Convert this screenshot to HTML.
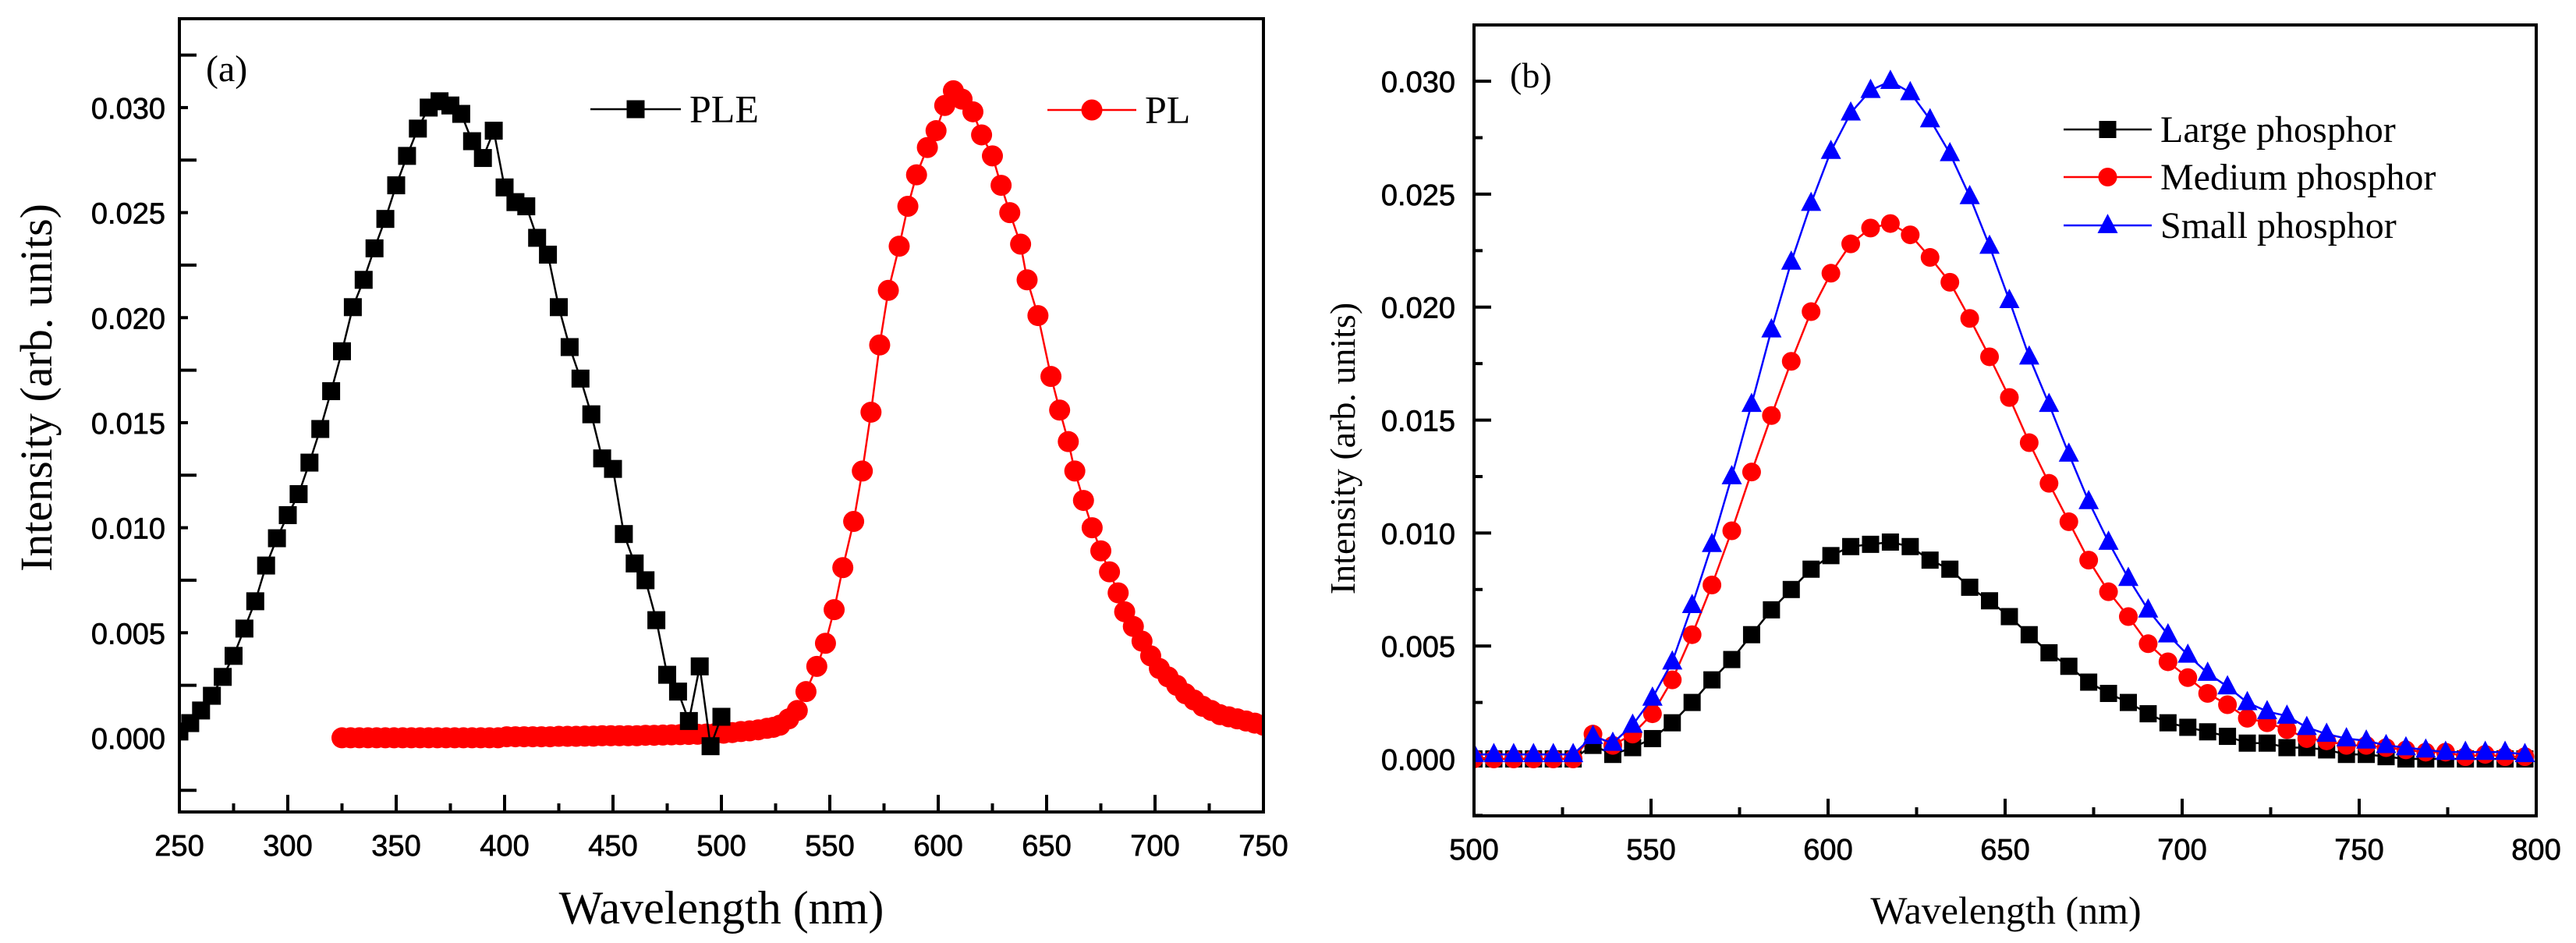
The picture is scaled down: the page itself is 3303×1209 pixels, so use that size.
<!DOCTYPE html>
<html><head><meta charset="utf-8"><style>
html,body{margin:0;padding:0;background:#fff;}
svg{display:block;}
</style></head><body>
<svg id="svg" xmlns="http://www.w3.org/2000/svg" width="3303" height="1209" viewBox="0 0 3303 1209">
<rect width="3303" height="1209" fill="#fff"/>
<defs>
<clipPath id="clipA"><rect x="230" y="24" width="1390" height="1017"/></clipPath>
<clipPath id="clipB"><rect x="1890" y="32" width="1362" height="1014"/></clipPath>
</defs>
<g id="panelA"></g>
<g id="panelB"></g>
</svg>
<script>
// Panel (a) data
const pleWl = [250,255,260,265,270,275,280,285,290,295,300,305,310,315,320,325,330,335,340,345,350,355,360,365,370,375,380,385,390,395,400,405,410,415,420,425,430,435,440,445,450,455,460,465,470,475,480,485,490,495,500];
const pleVal = [0.0003,0.0007,0.0013,0.002,0.0029,0.0039,0.0052,0.0065,0.0082,0.0095,0.0106,0.0116,0.0131,0.0147,0.0165,0.0184,0.0205,0.0218,0.0233,0.0247,0.0263,0.0277,0.029,0.030,0.0303,0.0301,0.0297,0.0284,0.0276,0.0289,0.0262,0.0255,0.0253,0.0238,0.023,0.0205,0.0186,0.0171,0.0154,0.0133,0.0128,0.0097,0.0083,0.0075,0.0056,0.003,0.0022,0.0008,0.0034,-0.0004,0.001];
const plWl = [325,329,333,337,341,345,349,353,357,361,365,369,373,377,381,385,389,393,397,401,405,409,413,417,421,425,429,433,437,441,445,449,453,457,461,465,469,473,477,481,485,489,493,497,501,505,509,513,517,521,524,527,531,535,539,544,548,552,556,561,565,569,573,577,582,586,590,595,599,603,607,611,616,620,625,629,633,638,641,646,652,656,660,663,667,671,675,679,683,686,690,694,698,702,706,710,714,718,722,726,730,734,738,742,746,750];
const plVal = [0,0,0,0,0,0,0,0,0,0,0,0,0,0,0,0,0,0,0,0.00005,0.00005,0.00005,0.00005,0.00005,0.00005,0.00007,0.00007,0.00007,0.00008,0.00008,0.0001,0.0001,0.0001,0.0001,0.0001,0.00012,0.00012,0.00013,0.00014,0.00015,0.00016,0.00017,0.00018,0.0002,0.00022,0.00025,0.0003,0.00033,0.00038,0.00045,0.0005,0.0006,0.0009,0.0013,0.0022,0.0034,0.0045,0.0061,0.0081,0.0103,0.0127,0.0155,0.0187,0.0213,0.0234,0.0253,0.0268,0.0281,0.0289,0.0301,0.0308,0.0304,0.0298,0.0287,0.0277,0.0263,0.025,0.0235,0.0218,0.0201,0.0172,0.0156,0.0141,0.0127,0.0113,0.01,0.0089,0.0079,0.0069,0.006,0.0053,0.0046,0.0039,0.0033,0.0029,0.0025,0.0021,0.0018,0.0015,0.0013,0.0011,0.001,0.0009,0.0008,0.0007,0.0006];
const xTicksA = [250,300,350,400,450,500,550,600,650,700,750];
const yTicksA = [0.000,0.005,0.010,0.015,0.020,0.025,0.030];
// Panel (b) data
const wlB = [500,505.6,511.2,516.8,522.4,528,533.6,539.2,544.8,550.4,556,561.6,567.2,572.8,578.4,584,589.6,595.2,600.8,606.4,612,617.6,623.2,628.8,634.4,640,645.6,651.2,656.8,662.4,668,673.6,679.2,684.8,690.4,696,701.6,707.2,712.8,718.4,724,729.6,735.2,740.8,746.4,752,757.6,763.2,768.8,774.4,780,785.6,791.2,796.8];
const largeVal = [0,0,0,0,0,0,0.0006,0.0002,0.0005,0.0009,0.0016,0.0025,0.0035,0.0044,0.0055,0.0066,0.0075,0.0084,0.009,0.0094,0.0095,0.0096,0.0094,0.0088,0.0084,0.0076,0.007,0.0063,0.0055,0.0047,0.0041,0.0034,0.0029,0.0025,0.002,0.0016,0.0014,0.0012,0.001,0.0007,0.0007,0.0005,0.0005,0.0004,0.0002,0.0002,0.0001,0,0,0,0,0,0,0];
const mediumVal = [0,0,0,0,0,0,0.0011,0.0006,0.0011,0.002,0.0035,0.0055,0.0077,0.0101,0.0127,0.0152,0.0176,0.0198,0.0215,0.0228,0.0235,0.0237,0.0232,0.0222,0.0211,0.0195,0.0178,0.016,0.014,0.0122,0.0105,0.0088,0.0074,0.0063,0.0051,0.0043,0.0036,0.0029,0.0024,0.0018,0.0016,0.0013,0.0009,0.0008,0.0006,0.0006,0.0005,0.0004,0.0003,0.0003,0.0001,0.0002,0.0001,0.0001];
const smallVal = [0.0002,0.0002,0.0002,0.0002,0.0002,0.0002,0.001,0.0007,0.0015,0.0027,0.0043,0.0068,0.0095,0.0125,0.0157,0.019,0.022,0.0246,0.0269,0.0286,0.0296,0.030,0.0295,0.0283,0.0268,0.0249,0.0227,0.0203,0.0178,0.0157,0.0135,0.0114,0.0096,0.008,0.0066,0.0055,0.0046,0.0038,0.0032,0.0025,0.0021,0.0019,0.0014,0.0011,0.0009,0.0008,0.0006,0.0005,0.0004,0.0003,0.0003,0.0003,0.0003,0.0002];
const xTicksB = [500,550,600,650,700,750,800];
const yTicksB = [0.000,0.005,0.010,0.015,0.020,0.025,0.030];

const NS='http://www.w3.org/2000/svg';
function mk(parent,tag,attrs,text){const e=document.createElementNS(NS,tag);for(const k in attrs)e.setAttribute(k,attrs[k]);if(text!==undefined)e.textContent=text;parent.appendChild(e);return e;}
const SANS='"Liberation Sans", Arial, sans-serif';
const SERIF='"Liberation Serif", "Times New Roman", serif';

function drawPanel(g,cfg){
  const {L,R,T,B,xmin,xmax,ymin,ymax}=cfg;
  const sx=v=>L+(v-xmin)/(xmax-xmin)*(R-L);
  const sy=v=>B-(v-ymin)/(ymax-ymin)*(B-T);
  const xt=cfg.xTicks, yt=cfg.yTicks;
  for(let i=0;i<xt.length;i++){
    const x=sx(xt[i]);
    const t=mk(g,'line',{x1:x,y1:B,x2:x,y2:B-22,stroke:'#000','stroke-width':4});
    
    
    const lb=mk(g,'text',{x:x,y:B+56,'font-family':SANS,'font-size':38,'text-anchor':'middle',fill:'#000',stroke:'#000','stroke-width':0.7},String(xt[i]));
    
    
    if(i<xt.length-1){
      const xm=sx((xt[i]+xt[i+1])/2);
      const m=mk(g,'line',{x1:xm,y1:B,x2:xm,y2:B-11,stroke:'#000','stroke-width':4});
      
      
    }
  }
  const step=yt[1]-yt[0];
  const longMid=cfg.longMid;
  for(let v=yt[0]-step/2; v<=ymax; v+=step){
    if(v<ymin) continue;
    const y=sy(v);
    const m=mk(g,'line',{x1:L,y1:y,x2:L+(longMid?22:11),y2:y,stroke:'#000','stroke-width':4});
    
    
  }
  for(const v of yt){
    const y=sy(v);
    const t=mk(g,'line',{x1:L,y1:y,x2:L+(longMid?11:22),y2:y,stroke:'#000','stroke-width':4});
    
    
    const lb=mk(g,'text',{x:L-cfg.labOff,y:y+14,'font-family':SANS,'font-size':38,'text-anchor':'end',fill:'#000',stroke:'#000','stroke-width':0.7},v.toFixed(3));
    
    
  }
  return {sx,sy};
}

function marker(g,type,x,y,color,size){
  let e;
  if(type==='sq') e=mk(g,'rect',{x:x-size/2,y:y-size/2,width:size,height:size,fill:color});
  else if(type==='ci') e=mk(g,'circle',{cx:x,cy:y,r:size/2,fill:color});
  else { const h=size*0.95; e=mk(g,'polygon',{points:`${x},${y-h*0.6} ${x-size/2},${y+h*0.4} ${x+size/2},${y+h*0.4}`,fill:color}); }
  return e;
}

function series(g,sx,sy,xs,ys,color,type,size,name,clip){
  const sg=mk(g,'g',{'clip-path':`url(#${clip})`});
  
  
  const pts=xs.map((x,i)=>sx(x).toFixed(1)+','+sy(ys[i]).toFixed(1)).join(' ');
  const pl=mk(sg,'polyline',{points:pts,fill:'none',stroke:color,'stroke-width':2.5,'stroke-linejoin':'round'});
  
  
  for(let i=0;i<xs.length;i++){
    const m=marker(sg,type,sx(xs[i]),sy(ys[i]),color,size);
    
    
  }
}

function legendEntry(g,x1,x2,y,color,type,size,label,fs){
  const lg=mk(g,'g',{});
  
  
  mk(lg,'line',{x1:x1,y1:y,x2:x2,y2:y,stroke:color,'stroke-width':2.5});
  marker(lg,type,(x1+x2)/2,y,color,size);
  const t=mk(lg,'text',{x:x2+11,y:y+fs*0.33,'font-family':SERIF,'font-size':fs,fill:'#000'},label);
  
  
}

// Panel A
const gA=document.getElementById('panelA');
const A={L:230,R:1620,T:24,B:1041,xmin:250,xmax:750,ymin:-0.00353,ymax:0.03423,xTicks:xTicksA,yTicks:yTicksA,longMid:true,labOff:18};
const sa=drawPanel(gA,A);
series(gA,sa.sx,sa.sy,plWl,plVal,'#ff0000','ci',27,'pl-series','clipA');
series(gA,sa.sx,sa.sy,pleWl,pleVal,'#000000','sq',23,'ple-series','clipA');
const fa=mk(gA,'rect',{x:230,y:24,width:1390,height:1017,fill:'none',stroke:'#000','stroke-width':4});


legendEntry(gA,757,873,140,'#000','sq',23,'PLE',50);
legendEntry(gA,1343,1457,141,'#ff0000','ci',27,'PL',50);
const la=mk(gA,'text',{x:264,y:104,'font-family':SERIF,'font-size':48,fill:'#000'},'(a)');


const xa=mk(gA,'text',{x:925,y:1184,'font-family':SERIF,'font-size':60,'text-anchor':'middle',fill:'#000'},'Wavelength (nm)');


const ya=mk(gA,'text',{x:0,y:0,transform:'translate(66,497) rotate(-90)','font-family':SERIF,'font-size':58,'text-anchor':'middle',fill:'#000'},'Intensity (arb. units)');



// Panel B
const gB=document.getElementById('panelB');
const Bc={L:1890,R:3252,T:32,B:1046,xmin:500,xmax:800,ymin:-0.00252,ymax:0.03249,xTicks:xTicksB,yTicks:yTicksB,longMid:false,labOff:24};
const sb=drawPanel(gB,Bc);
series(gB,sb.sx,sb.sy,wlB,largeVal,'#000000','sq',22,'large-phosphor-series','clipB');
series(gB,sb.sx,sb.sy,wlB,mediumVal,'#ff0000','ci',24,'medium-phosphor-series','clipB');
series(gB,sb.sx,sb.sy,wlB,smallVal,'#0000ff','tri',26,'small-phosphor-series','clipB');
const fb=mk(gB,'rect',{x:1890,y:32,width:1362,height:1014,fill:'none',stroke:'#000','stroke-width':4});


legendEntry(gB,2646,2759,166,'#000','sq',22,'Large phosphor',48);
legendEntry(gB,2646,2759,227,'#ff0000','ci',24,'Medium phosphor',48);
legendEntry(gB,2646,2759,289,'#0000ff','tri',26,'Small phosphor',48);
const lb2=mk(gB,'text',{x:1936,y:112,'font-family':SERIF,'font-size':46,fill:'#000'},'(b)');


const xb=mk(gB,'text',{x:2572,y:1184,'font-family':SERIF,'font-size':50,'text-anchor':'middle',fill:'#000'},'Wavelength (nm)');


const yb=mk(gB,'text',{x:0,y:0,transform:'translate(1737,575) rotate(-90)','font-family':SERIF,'font-size':46,'text-anchor':'middle',fill:'#000'},'Intensity (arb. units)');


</script>
</body></html>
